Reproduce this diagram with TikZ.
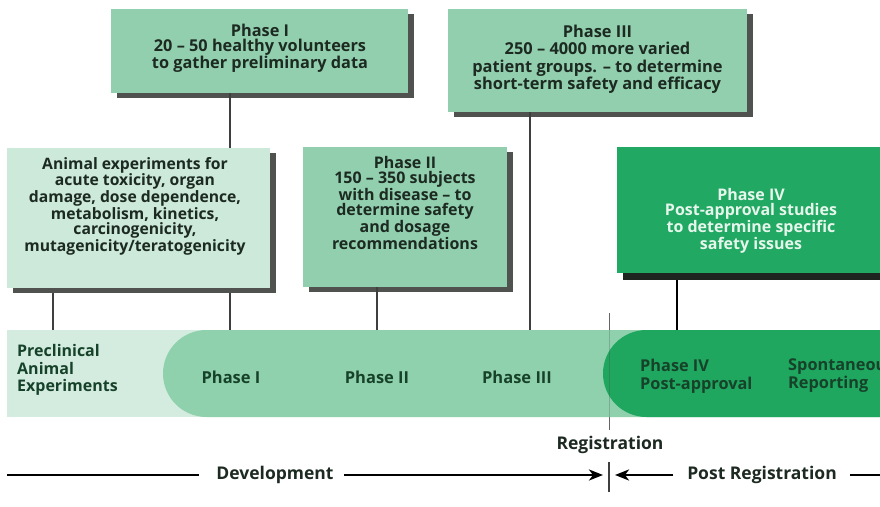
\documentclass[tikz,border=0pt]{standalone}
\usepackage{fontspec}
\setmainfont{Open Sans}[BoldFont={Open Sans Bold}]
\usetikzlibrary{shadows,arrows.meta,calc}
\definecolor{boxgreen}{HTML}{92CFAE}
\definecolor{palegreen}{HTML}{CCE9D9}
\definecolor{vivid}{HTML}{21A862}
\definecolor{bandlight}{HTML}{D3ECDF}
\definecolor{bandmid}{HTML}{8FD1AD}
\definecolor{banddark}{HTML}{1FA65F}
\definecolor{shade}{HTML}{4F524F}
\definecolor{darkshade}{HTML}{1E2420}
\definecolor{ink}{HTML}{1C2A21}
\definecolor{lightink}{HTML}{E6F6EC}
\definecolor{bandink}{HTML}{17422A}
\definecolor{connc}{HTML}{3F3F3F}
\begin{document}
\begin{tikzpicture}[x=1pt,y=-1pt,
  box/.style={draw=none, fill=boxgreen, inner sep=0pt, anchor=north west,
    general shadow={fill=shade, shadow xshift=6pt, shadow yshift=-5pt}},
  txt/.style={font=\bfseries\fontsize{16.3}{15}\selectfont, text=ink, align=center, inner sep=0pt},
  bandtxt/.style={font=\bfseries\fontsize{16.5}{17.5}\selectfont, text=bandink, inner sep=0pt},
  conn/.style={draw=connc, line width=1.4pt},
  axis/.style={draw=black, line width=2.6pt},
  axarrow/.style={axis, -{Stealth[length=14pt, width=11pt, inset=4pt]}},
  lbl/.style={font=\bfseries\fontsize{17.5}{18}\selectfont, text=ink, inner sep=0pt}
]
\useasboundingbox[fill=white] (0,0) rectangle (880,506);

% registration line (behind the band)
\coordinate (regtop) at (609,313);
\coordinate (regbot) at (609,430);
\draw[draw=connc!80, line width=1pt] (regtop) -- (regbot);

% timeline band
\node[fill=bandlight, inner sep=0pt, minimum width=873pt, minimum height=87pt, anchor=north west] (band) at (7,330) {};
\fill[bandmid, rounded corners=43.5pt] (163,330) rectangle (960,417);
\fill[banddark, rounded corners=43.5pt] (603,330) rectangle (990,417);
\draw[draw=connc, opacity=0.25, line width=1pt] (regtop |- band.north) -- (regtop |- band.south);

\node[bandtxt, align=left, anchor=west, font=\bfseries\fontsize{16}{17.5}\selectfont] (precl) at (17,370) {Preclinical\\Animal\\Experiments};
\node[bandtxt] (bph1) at (231,377) {Phase I};
\node[bandtxt] (bph2) at (377,377) {Phase II};
\node[bandtxt] (bph3) at (517,377) {Phase III};
\node[bandtxt, align=left, anchor=west, font=\bfseries\fontsize{16.3}{18}\selectfont] (bph4) at (640,376) {Phase IV\\Post-approval};
\node[bandtxt, align=left, anchor=west, font=\bfseries\fontsize{16.3}{18}\selectfont] (spont) at (788,376) {Spontaneous\\Reporting};

\coordinate (aleg) at (53,330);
\coordinate (p1leg) at (230,330);
\coordinate (p3leg) at (530,330);
\coordinate (p4leg) at (677,330);

% Phase I box
\node[box, minimum width=297pt, minimum height=84pt] (p1box) at (111,9) {};
\node[txt] (p1txt) at (260,48) {Phase I\\20 -- 50 healthy volunteers\\to gather preliminary data};
\draw[conn] (p1leg |- p1box.south) -- (p1leg);

% Phase III box
\node[box, minimum width=299pt, minimum height=103pt] (p3box) at (448,9) {};
\node[txt, font=\bfseries\fontsize{16.4}{17.5}\selectfont] (p3txt) at (597.5,59) {Phase III\\250 -- 4000 more varied\\patient groups. -- to determine\\short-term safety and efficacy};
\draw[conn] (p3leg |- p3box.south) -- (p3leg);

% Animal box
\node[box, fill=palegreen, minimum width=263pt, minimum height=140pt] (anim) at (7,148) {};
\node[txt, font=\bfseries\fontsize{15.7}{15}\selectfont] (animtxt) at (135,206) {Animal experiments for\\acute toxicity, organ\\damage, dose dependence,\\metabolism, kinetics,\\carcinogenicity,\\mutagenicity/teratogenicity};
\draw[conn] ($(aleg |- anim.south)+(0,5)$) -- (aleg);
\draw[conn] ($(p1leg |- anim.south)+(0,5)$) -- (p1leg);

% Phase II box
\node[box, minimum width=204pt, minimum height=140pt] (p2box) at (303,147) {};
\node[txt, font=\bfseries\fontsize{16}{14.6}\selectfont] (p2txt) at (405,203) {Phase II\\150 -- 350 subjects\\with disease -- to\\determine safety\\and dosage\\recommendations};
\draw[conn] (bph2 |- p2box.south) -- (bph2 |- band.north);

% Phase IV box
\node[box, fill=vivid, minimum width=280pt, minimum height=126pt,
  general shadow={fill=darkshade, shadow xshift=6pt, shadow yshift=-7pt}] (p4box) at (617,147) {};
\node[txt, text=lightink, font=\bfseries\fontsize{16}{15.2}\selectfont] (p4txt) at (751,221) {Phase IV\\Post-approval studies\\to determine specific\\safety issues};
\draw[draw=black, line width=2pt] ($(p4leg |- p4box.south)+(0,7)$) -- (p4leg);

% Registration label and tick
\node[lbl] (reg) at (610,445) {Registration};
\coordinate (ticktop) at (609,462);
\coordinate (tickbot) at (609,492);
\draw[draw=connc, line width=1.2pt] (ticktop) -- (tickbot);

% Bottom axis
\coordinate (devstart) at (7,475);
\coordinate (devend) at (603,475);
\coordinate (poststart) at (615,475);
\coordinate (postend) at (880,475);
\node[lbl] (dev) at (275,475) {Development};
\node[lbl] (post) at (762,475) {Post Registration};
\draw[axis] (devstart) -- ($(dev.west)+(-17,0)$);
\draw[axarrow] ($(dev.east)+(10,0)$) -- (devend);
\draw[axarrow] ($(post.west)+(-14,0)$) -- (poststart);
\draw[axis] ($(post.east)+(13,0)$) -- (postend);
\end{tikzpicture}
\end{document}
